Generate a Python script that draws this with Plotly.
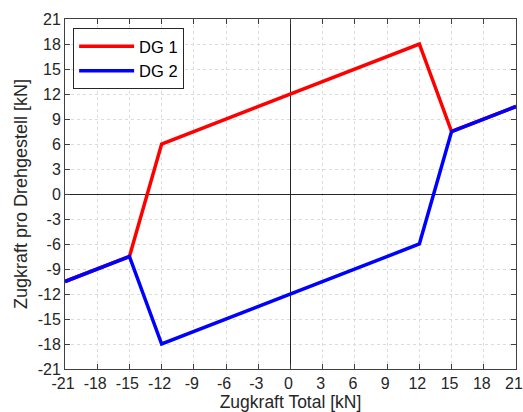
import plotly.graph_objects as go

x_dg1 = [-21, -15, -12, 12, 15, 21]
y_dg1 = [-10.5, -7.5, 6, 18, 7.5, 10.5]
x_dg2 = [-21, -15, -12, 12, 15, 21]
y_dg2 = [-10.5, -7.5, -18, -6, 7.5, 10.5]
ticks = list(range(-21, 22, 3))

fig = go.Figure()
fig.add_trace(go.Scatter(x=x_dg1, y=y_dg1, mode="lines", name="DG 1",
                         line=dict(color="#ff0000", width=3.5)))
fig.add_trace(go.Scatter(x=x_dg2, y=y_dg2, mode="lines", name="DG 2",
                         line=dict(color="#0000ff", width=3.5)))

fam = "Liberation Sans, Arial, sans-serif"
font = dict(family=fam, size=16, color="#262626")
axis_common = dict(range=[-21, 21], tickvals=ticks, ticktext=[str(t) for t in ticks],
                   showgrid=True, gridcolor="#dcdcdc", griddash="dot", gridwidth=1,
                   zeroline=True, zerolinecolor="#262626", zerolinewidth=1,
                   showline=True, linecolor="#404040", linewidth=1, mirror="ticks",
                   ticks="inside", ticklen=5, tickcolor="#404040",
                   tickfont=font, automargin=False, ticklabeloverflow="allow")

fig.update_layout(
    width=523, height=412,
    margin=dict(l=65, r=7, t=19, b=43),
    paper_bgcolor="white", plot_bgcolor="white",
    font=font,
    showlegend=True,
    legend=dict(x=0.018, y=0.974, xanchor="left", yanchor="top",
                bgcolor="white", bordercolor="#262626", borderwidth=1,
                itemwidth=55, tracegroupgap=0,
                font=dict(family=fam, size=16.5, color="#000000")),
    xaxis=dict(axis_common, ticklabelshift=-2,
               title=dict(text="Zugkraft Total [kN]", standoff=3,
                          font=dict(family=fam, size=17.5, color="#262626"))),
    yaxis=dict(axis_common, title=dict(text="Zugkraft pro Drehgestell [kN]", standoff=5,
                                       font=dict(family=fam, size=18, color="#262626"))),
)

fig.write_html("out.html", config={"displayModeBar": False},
               post_script="document.body.style.margin='0';document.body.style.overflow='hidden';")
